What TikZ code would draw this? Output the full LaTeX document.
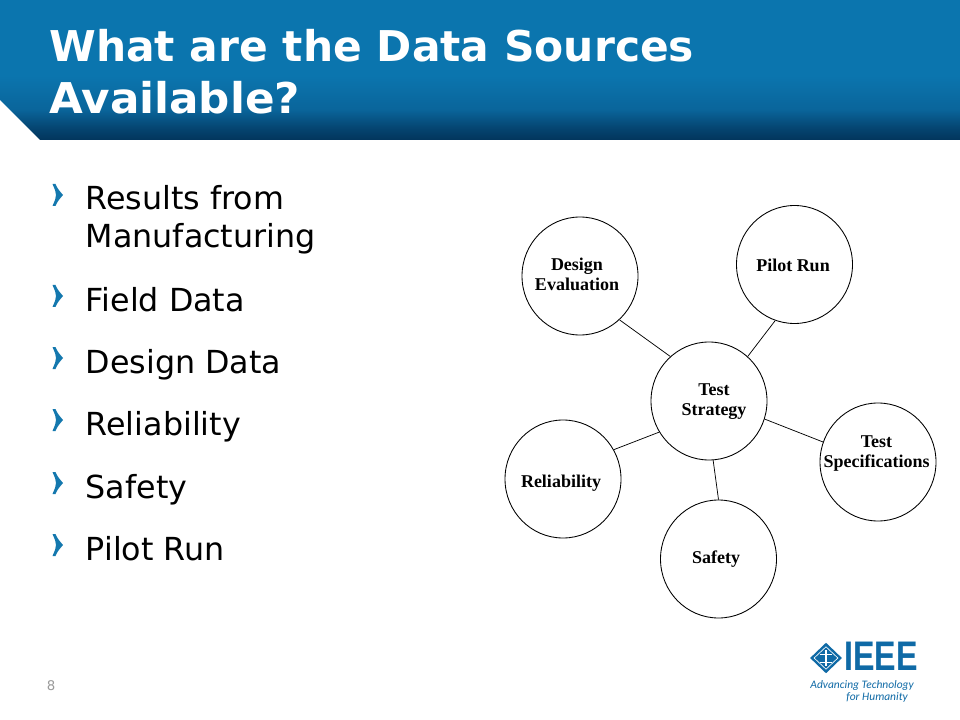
\documentclass[tikz,border=0pt]{standalone}
\usepackage{fontspec}
\setmainfont{DejaVu Sans}
\newfontfamily\serifbold{Liberation Serif Bold}
\newfontfamily\logofont{Liberation Sans}
\newfontfamily\tagfont{Carlito}
\usetikzlibrary{shapes.geometric}
\definecolor{hdtop}{HTML}{0B75AE}
\definecolor{hdmid}{HTML}{0A659B}
\definecolor{hdbot}{HTML}{02355C}
\definecolor{ieeeblue}{HTML}{0F6AA6}
\definecolor{bulletblue}{HTML}{1478AE}
\definecolor{numgray}{HTML}{9A9A9A}
\pgfdeclareverticalshading{hdshade}{100bp}{color(0bp)=(hdbot); color(25bp)=(hdbot); color(29bp)=(hdbot!70!hdmid); color(36bp)=(hdmid); color(48bp)=(hdtop); color(75bp)=(hdtop); color(100bp)=(hdtop)}
\tikzset{
 bubble/.style={draw=black,line width=0.65pt,ellipse,fill=white,inner sep=0pt,minimum width=87pt,minimum height=88.5pt},
 bublabel/.style={font=\serifbold\fontsize{13.5}{15}\selectfont,align=center,inner sep=0pt},
 link/.style={draw=black,line width=0.55pt},
 bul/.style={font=\fontsize{23.8}{28.5}\selectfont,anchor=base west,inner sep=0pt,align=left,text=black},
 titletext/.style={font=\bfseries\fontsize{31.8}{40}\selectfont,text=white,anchor=base west,inner sep=0pt},
 chevron/.style={fill=bulletblue,draw=none}
}
\newcommand{\chev}[2]{\fill[chevron] (#1,#2) -- (#1+3,#2) .. controls (#1+5,#2+5) and (#1+8,#2+8) .. (#1+10.5,#2+11) .. controls (#1+8,#2+14) and (#1+5,#2+17) .. (#1+3,#2+22) -- (#1,#2+22) .. controls (#1+2.5,#2+16) and (#1+3.5,#2+14) .. (#1+3.5,#2+11) .. controls (#1+3.5,#2+8) and (#1+2.5,#2+6) .. (#1,#2) -- cycle;}
\begin{document}
\begin{tikzpicture}[x=0.75pt,y=-0.75pt]
\useasboundingbox (0,0) rectangle (960,720);
\fill[white] (0,0) rectangle (960,720);
\path[shading=hdshade] (0,0) -- (960,0) -- (960,140) -- (40,140) -- (0,100) -- cycle;
\node[titletext] (t1) at (49,62) {What are the Data Sources};
\node[titletext,xscale=1.03] (t2) at (49,114) {Available?};
\chev{52.5}{184}
\chev{52.5}{285}
\chev{52.5}{347}
\chev{52.5}{409}
\chev{52.5}{472}
\chev{52.5}{534}
\node[bul] (b1) at (85.5,210) {Results from};
\node[bul] (b1b) at (85.5,248) {Manufacturing};
\node[bul] (b2) at (85.5,311) {Field Data};
\node[bul] (b3) at (85.5,373) {Design Data};
\node[bul] (b4) at (85.5,435) {Reliability};
\node[bul] (b5) at (85.5,498) {Safety};
\node[bul] (b6) at (85.5,560) {Pilot Run};
\node[bubble] (de) at (580,276) {};
\node[bubble] (pr) at (794.5,264.5) {};
\node[bubble] (ts) at (709,401) {};
\node[bubble] (sp) at (878,462) {};
\node[bubble] (re) at (563,479) {};
\node[bubble] (sa) at (718.5,559) {};
\draw[link] (de.-48) -- (ts.131);
\draw[link] (pr.-109) -- (ts.49);
\draw[link] (ts.-18) -- (sp.160);
\draw[link] (ts.-86) -- (sa.90);
\draw[link] (ts.-148) -- (re.30);
\node[bublabel] (lde) at (577,274) {Design\\Evaluation};
\node[bublabel] (lpr) at (793,265) {Pilot Run};
\node[bublabel] (lts) at (714,401.5) {Test\\Strategy};
\node[bublabel] (lsp) at (876.5,454) {Test\\Specifications};
\node[bublabel] (lre) at (561,483) {Reliability};
\node[bublabel] (lsa) at (716,559) {Safety};
\node[font=\fontsize{10}{12}\selectfont,text=numgray,inner sep=0pt] (pg) at (51,686) {8};
% logo
\node[diamond,fill=ieeeblue,minimum width=24pt,minimum height=23pt,inner sep=0pt] (ld) at (826,658) {};
\node[diamond,draw=white,line width=0.5pt,minimum width=18pt,minimum height=17pt,inner sep=0pt] (ld2) at (826,658) {};
\draw[white,line width=0.8pt] (ld2.north) ++(0,4) -- ++(0,16);
\draw[white,line width=0.7pt] (820,654) -- (832,654) (820,662) -- (832,662);
\node[font=\logofont\bfseries\fontsize{31}{31}\selectfont,text=ieeeblue,anchor=base west,inner sep=0pt,xscale=0.78] (ln) at (844,670) {IEEE};
\node[font=\tagfont\itshape\fontsize{8.6}{12}\selectfont,text=ieeeblue,anchor=base east,inner sep=0pt] (lt) at (914,688) {Advancing Technology};
\node[font=\tagfont\itshape\fontsize{8.6}{12}\selectfont,text=ieeeblue,anchor=base east,inner sep=0pt] (lu) at (908,700) {for Humanity};
\end{tikzpicture}
\end{document}
